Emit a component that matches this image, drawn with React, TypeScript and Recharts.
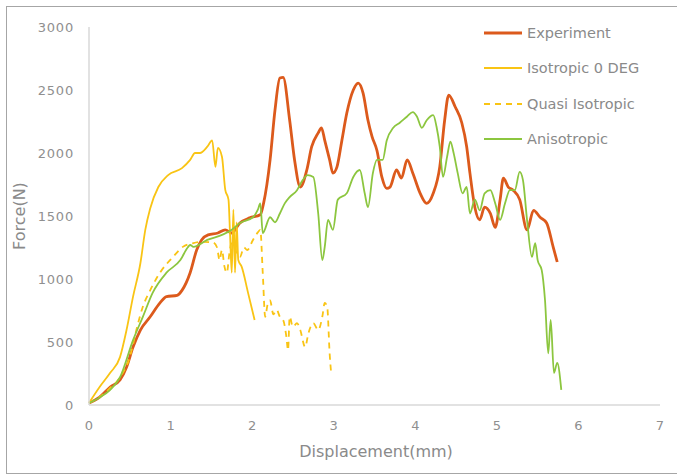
import React from "react";
import { LineChart, Line, XAxis, YAxis, Legend } from "recharts";

const xTicks = [0, 1, 2, 3, 4, 5, 6, 7];
const yTicks = [0, 500, 1000, 1500, 2000, 2500, 3000];
const seriesNames = ["Experiment", "Isotropic 0 DEG", "Quasi Isotropic", "Anisotropic"];

const experimentX = [0, 0.13, 0.26, 0.38, 0.46, 0.54, 0.63, 0.75, 0.87, 0.95, 1.08, 1.14, 1.24, 1.32, 1.38, 1.46, 1.58, 1.67, 1.75, 1.85, 1.97, 2.1, 2.14, 2.22, 2.28, 2.34, 2.38, 2.46, 2.52, 2.59, 2.67, 2.73, 2.81, 2.85, 2.89, 2.95, 2.99, 3.04, 3.1, 3.16, 3.24, 3.3, 3.36, 3.42, 3.47, 3.53, 3.59, 3.65, 3.69, 3.77, 3.83, 3.9, 3.97, 4.06, 4.14, 4.22, 4.3, 4.36, 4.41, 4.49, 4.57, 4.63, 4.67, 4.73, 4.79, 4.85, 4.92, 4.98, 5.04, 5.08, 5.14, 5.2, 5.28, 5.37, 5.45, 5.53, 5.61, 5.69, 5.74];
const experimentY = [16, 63, 143, 198, 300, 460, 595, 700, 810, 860, 870, 910, 1050, 1230, 1310, 1350, 1365, 1390, 1365, 1445, 1485, 1510, 1600, 1945, 2340, 2595, 2600, 2260, 1945, 1730, 1865, 2050, 2160, 2200, 2100, 1945, 1840, 1890, 2100, 2315, 2500, 2555, 2475, 2260, 2130, 2020, 1810, 1720, 1730, 1865, 1800, 1945, 1840, 1680, 1600, 1680, 1890, 2260, 2460, 2365, 2240, 2050, 1840, 1570, 1470, 1570, 1520, 1410, 1630, 1800, 1730, 1705, 1630, 1390, 1545, 1490, 1445, 1255, 1135];

const isoX = [0, 0.13, 0.26, 0.38, 0.46, 0.54, 0.63, 0.69, 0.75, 0.85, 0.97, 1.14, 1.24, 1.3, 1.36, 1.45, 1.51, 1.55, 1.58, 1.63, 1.67, 1.71, 1.73, 1.75, 1.77, 1.79, 1.81, 1.83, 1.87, 1.95, 2.03];
const isoY = [16, 143, 255, 380, 595, 860, 1125, 1390, 1560, 1730, 1825, 1880, 1945, 2000, 2000, 2050, 2100, 1890, 2040, 1970, 1710, 1630, 1340, 1050, 1550, 1050, 1450, 1150, 1100, 890, 675];

const quasiX = [0, 0.13, 0.25, 0.38, 0.5, 0.59, 0.66, 0.75, 0.87, 1.03, 1.15, 1.28, 1.4, 1.52, 1.57, 1.6, 1.63, 1.66, 1.69, 1.72, 1.77, 1.81, 1.85, 1.9, 1.94, 2.01, 2.07, 2.1, 2.13, 2.16, 2.19, 2.22, 2.26, 2.3, 2.34, 2.38, 2.42, 2.44, 2.46, 2.5, 2.55, 2.59, 2.65, 2.69, 2.75, 2.81, 2.86, 2.89, 2.92, 2.95, 2.97];
const quasiY = [16, 63, 130, 220, 380, 620, 780, 910, 1050, 1175, 1255, 1285, 1295, 1290, 1250, 1150, 1230, 1100, 1050, 1200, 1330, 1200, 1175, 1250, 1230, 1310, 1370, 1390, 1050, 700, 800, 830, 720, 755, 700, 675, 540, 435, 700, 620, 650, 595, 460, 570, 650, 595, 700, 810, 780, 410, 240];

const anisoX = [0, 0.13, 0.26, 0.38, 0.54, 0.66, 0.78, 0.95, 1.12, 1.21, 1.24, 1.28, 1.45, 1.63, 1.75, 1.85, 2.01, 2.07, 2.1, 2.13, 2.22, 2.28, 2.34, 2.4, 2.46, 2.55, 2.62, 2.68, 2.75, 2.81, 2.86, 2.89, 2.93, 2.99, 3.05, 3.16, 3.24, 3.32, 3.38, 3.42, 3.48, 3.53, 3.6, 3.65, 3.73, 3.81, 3.9, 3.97, 4.02, 4.08, 4.14, 4.22, 4.26, 4.3, 4.34, 4.39, 4.43, 4.47, 4.52, 4.58, 4.63, 4.67, 4.73, 4.79, 4.85, 4.92, 4.98, 5.04, 5.1, 5.16, 5.22, 5.28, 5.32, 5.37, 5.43, 5.47, 5.5, 5.55, 5.59, 5.63, 5.66, 5.7, 5.74, 5.79];
const anisoY = [16, 60, 120, 220, 515, 700, 890, 1050, 1150, 1250, 1270, 1255, 1310, 1350, 1390, 1445, 1490, 1550, 1600, 1365, 1490, 1450, 1520, 1600, 1650, 1705, 1785, 1825, 1810, 1520, 1150, 1255, 1470, 1390, 1630, 1680, 1810, 1865, 1680, 1570, 1840, 1945, 1945, 2100, 2200, 2240, 2290, 2325, 2290, 2200, 2260, 2300, 2210, 2050, 1810, 1970, 2090, 2000, 1840, 1680, 1730, 1520, 1630, 1545, 1680, 1705, 1600, 1470, 1600, 1705, 1705, 1850, 1785, 1470, 1175, 1285, 1150, 1070, 835, 410, 675, 255, 335, 120];

const toPoints = (xs: number[], ys: number[]) => xs.map((x, i) => ({ x, y: ys[i] }));

const experimentData = toPoints(experimentX, experimentY);
const isoData = toPoints(isoX, isoY);
const quasiData = toPoints(quasiX, quasiY);
const anisoData = toPoints(anisoX, anisoY);

const FONT = "'DejaVu Sans', 'Noto Sans', sans-serif";
const TEXT = "#8f8f8f";

const LegendContent = (props: any) => {
  const payload = [...(props.payload || [])].sort(
    (a: any, b: any) => seriesNames.indexOf(a.value) - seriesNames.indexOf(b.value)
  );
  return (
    <div style={{ fontFamily: FONT }}>
      {payload.map((p: any) => (
        <div key={p.value} style={{ height: 35.5, display: "flex", alignItems: "center" }}>
          <svg width={40} height={8} style={{ display: "block" }}>
            <line
              x1={0}
              y1={4}
              x2={38}
              y2={4}
              stroke={p.color}
              strokeWidth={p.payload?.strokeWidth || 2}
              strokeDasharray={p.payload?.strokeDasharray}
            />
          </svg>
          <span style={{ marginLeft: 3, fontSize: 14.5, color: "#8a8a8a", whiteSpace: "nowrap" }}>{p.value}</span>
        </div>
      ))}
    </div>
  );
};

export default function App() {
  return (
    <div style={{ position: "absolute", left: 0, top: 0, width: 677, height: 475, background: "#fff" }}>
      <div
        style={{
          position: "absolute",
          left: 6,
          top: 6,
          width: 671,
          height: 466,
          borderTop: "1.5px solid #a6a6a6",
          borderLeft: "1.5px solid #a6a6a6",
          borderBottom: "1.5px solid #a6a6a6",
        }}
      />
      <LineChart width={677} height={475} margin={{ top: 27, right: 17, bottom: 40, left: 29 }}>
        <XAxis
          type="number"
          dataKey="x"
          domain={[0, 7]}
          ticks={xTicks}
          allowDuplicatedCategory={false}
          axisLine={{ stroke: "#d9d9d9", strokeWidth: 1.5 }}
          tickLine={false}
          tickSize={0}
          tickMargin={16}
          height={30}
          tick={{ fill: TEXT, fontSize: 13, fontFamily: FONT }}
          label={{
            content: () => (
              <text x={376} y={457} textAnchor="middle" fill="#8a8a8a" fontSize={16} fontFamily={FONT}>
                Displacement(mm)
              </text>
            ),
          }}
        />
        <YAxis
          type="number"
          dataKey="y"
          domain={[0, 3000]}
          ticks={yTicks}
          width={60}
          axisLine={{ stroke: "#d9d9d9", strokeWidth: 1.5 }}
          tickLine={false}
          tickSize={0}
          tickMargin={15}
          tick={{ fill: TEXT, fontSize: 13, fontFamily: FONT, letterSpacing: 0.8 }}
          label={{
            content: () => (
              <text
                x={20}
                y={216}
                textAnchor="middle"
                fill="#8a8a8a"
                fontSize={16}
                fontFamily={FONT}
                transform="rotate(-90 20 216)"
                dominantBaseline="middle"
              >
                Force(N)
              </text>
            ),
          }}
        />
        <Legend
          layout="horizontal"
          verticalAlign="middle"
          align="center"
          content={LegendContent}
          wrapperStyle={{ left: 484, top: 15, width: 190 }}
        />
        <Line
          data={experimentData}
          dataKey="y"
          name="Experiment"
          type="monotone"
          stroke="#dc5a1c"
          strokeWidth={2.8}
          dot={false}
          isAnimationActive={false}
        />
        <Line
          data={isoData}
          dataKey="y"
          name="Isotropic 0 DEG"
          type="monotone"
          stroke="#f9c414"
          strokeWidth={1.8}
          dot={false}
          isAnimationActive={false}
        />
        <Line
          data={quasiData}
          dataKey="y"
          name="Quasi Isotropic"
          type="monotone"
          stroke="#f9c414"
          strokeWidth={1.8}
          strokeDasharray="6 5"
          dot={false}
          isAnimationActive={false}
        />
        <Line
          data={anisoData}
          dataKey="y"
          name="Anisotropic"
          type="monotone"
          stroke="#8cc63f"
          strokeWidth={1.8}
          dot={false}
          isAnimationActive={false}
        />
      </LineChart>
    </div>
  );
}
